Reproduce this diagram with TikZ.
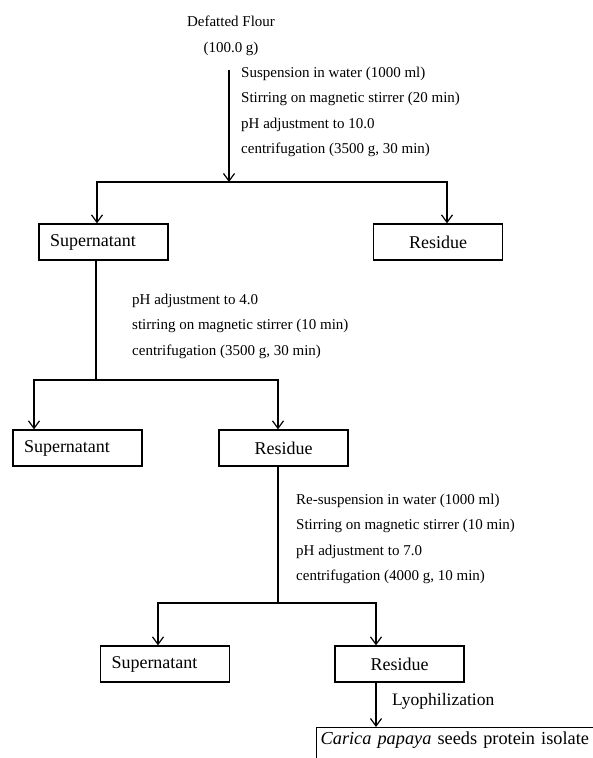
\documentclass[tikz,border=0pt]{standalone}
\usepackage{fontspec}
\setmainfont{Liberation Serif}
\usetikzlibrary{arrows.meta}
\begin{document}
\begin{tikzpicture}[x=1pt,y=-1pt,
  conn/.style={line width=1.2pt, draw=black},
  arr/.style={conn, -{Straight Barb[length=7.5pt,width=11pt,line width=1.2pt]}},
  stepbox/.style={draw, line width=1.3pt, minimum width=129pt, minimum height=36pt,
    inner sep=0pt, font=\fontsize{18}{20}\selectfont},
  leftbox/.style={stepbox, inner xsep=11pt, text width=107pt, align=left},
  cbox/.style={stepbox, align=center},
  proc/.style={anchor=west, inner sep=0pt, align=left, font=\fontsize{15}{25.5}\selectfont}
]
\useasboundingbox (0,0) rectangle (593,758);
\clip (0,0) rectangle (593,758);

% nodes
\node[proc, align=center, anchor=center] (top) at (231,36) {Defatted Flour\\(100.0 g)};
\node[proc] (p1) at (241,112) {Suspension in water (1000 ml)\\Stirring on magnetic stirrer (20 min)\\pH adjustment to 10.0\\centrifugation (3500 g, 30 min)};
\node[leftbox] (sup1) at (103.5,242) {Supernatant};
\node[cbox] (res1) at (438,242) {Residue};
\node[proc] (p2) at (132,326) {pH adjustment to 4.0\\stirring on magnetic stirrer (10 min)\\centrifugation (3500 g, 30 min)};
\node[leftbox] (sup2) at (77.5,448) {Supernatant};
\node[cbox] (res2) at (283.5,448) {Residue};
\node[proc] (p3) at (296,539) {Re-suspension in water (1000 ml)\\Stirring on magnetic stirrer (10 min)\\pH adjustment to 7.0\\centrifugation (4000 g, 10 min)};
\node[leftbox] (sup3) at (165,664) {Supernatant};
\node[cbox] (res3) at (399.5,664) {Residue};
\node[anchor=west, inner sep=0pt, font=\fontsize{17.5}{20}\selectfont] (lyo) at (392,701) {Lyophilization};
\node[draw, line width=1.3pt, anchor=north west, inner xsep=4pt, inner ysep=4pt,
  text height=13pt, text depth=25pt, text width=290pt, align=left,
  font=\fontsize{18.3}{22}\selectfont] (prod) at (316,727) {\textit{Carica papaya} seeds protein isolate};

% junctions
\coordinate (j1) at (229,182);
\coordinate (j2) at (96,380);
\coordinate (j3) at (278,603);

% connectors
\draw[arr] ([yshift=-14pt]top.south -| j1) -- (j1);
\draw[arr] (j1) -| ([xshift=-6.5pt]sup1.north);
\draw[arr] (j1) -| ([xshift=9pt]res1.north);

\draw[conn] ([xshift=-7.5pt]sup1.south) -- (j2);
\draw[arr] (j2) -| ([xshift=-43.5pt]sup2.north);
\draw[arr] (j2) -| ([xshift=-5.5pt]res2.north);

\draw[conn] ([xshift=-5.5pt]res2.south) -- (j3);
\draw[arr] (j3) -| ([xshift=-7pt]sup3.north);
\draw[arr] (j3) -| ([xshift=-23.5pt]res3.north);

\draw[arr] ([xshift=-23.5pt]res3.south) -- ([xshift=-23.5pt]res3.south |- prod.north);
\end{tikzpicture}
\end{document}
